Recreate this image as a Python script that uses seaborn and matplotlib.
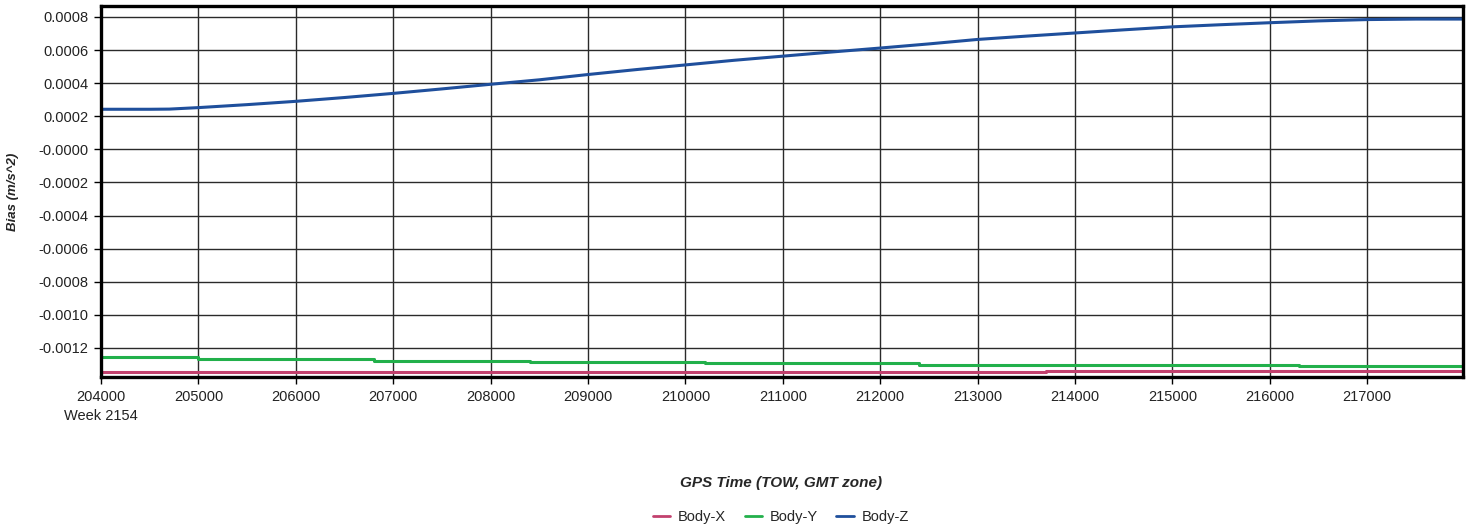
import matplotlib
matplotlib.use("Agg")
import matplotlib.pyplot as plt
import pandas as pd
import seaborn as sns

# Body-Z bias, read every 500 s
z_time = [204000, 204500, 204700, 205000, 205500, 206000, 206500, 207000, 207500,
          208000, 208500, 209000, 209500, 210000, 210500, 211000, 211500, 212000,
          212500, 213000, 213500, 214000, 214500, 215000, 215500, 216000, 216500,
          217000, 217500, 217980]
z_bias = [0.000242, 0.000242, 0.000243, 0.000252, 0.000270, 0.000290, 0.000313,
          0.000338, 0.000365, 0.000393, 0.000420, 0.000452, 0.000482, 0.000510,
          0.000538, 0.000563, 0.000588, 0.000612, 0.000637, 0.000664, 0.000684,
          0.000703, 0.000722, 0.000740, 0.000753, 0.000765, 0.000776, 0.000784,
          0.000787, 0.000787]

# Body-Y bias (step changes)
y_time = [204000, 205000, 206800, 208400, 210200, 212400, 216300, 217980]
y_bias = [-0.001256, -0.001267, -0.001277, -0.001285, -0.001293, -0.001301,
          -0.001307, -0.001307]

# Body-X bias
x_time = [204000, 213700, 217980]
x_bias = [-0.001344, -0.001337, -0.001337]

series_names = ["Body-X", "Body-Y", "Body-Z"]
series_colors = ["#c2416e", "#22b04b", "#1f4f9c"]

xtick_vals = list(range(204000, 218000, 1000))
xtick_labels = [str(v) for v in xtick_vals]
xtick_labels[0] = "204000\nWeek 2154"
ytick_vals = [0.0008, 0.0006, 0.0004, 0.0002, 0.0, -0.0002, -0.0004, -0.0006,
              -0.0008, -0.0010, -0.0012]
ytick_labels = ["0.0008", "0.0006", "0.0004", "0.0002", "-0.0000", "-0.0002",
                "-0.0004", "-0.0006", "-0.0008", "-0.0010", "-0.0012"]

df_x = pd.DataFrame({"time": x_time, "bias": x_bias})
df_y = pd.DataFrame({"time": y_time, "bias": y_bias})
df_z = pd.DataFrame({"time": z_time, "bias": z_bias})

sns.set_style("white")
plt.rcParams["font.family"] = ["Liberation Sans", "DejaVu Sans"]

fig = plt.figure(figsize=(14.73, 5.31), dpi=100)
ax = fig.add_axes([0.0686, 0.29, 0.9244, 0.699])

sns.lineplot(data=df_x, x="time", y="bias", color=series_colors[0],
             drawstyle="steps-post", linewidth=2.2, ax=ax, estimator=None)
sns.lineplot(data=df_y, x="time", y="bias", color=series_colors[1],
             drawstyle="steps-post", linewidth=2.2, ax=ax, estimator=None)
sns.lineplot(data=df_z, x="time", y="bias", color=series_colors[2],
             linewidth=2.2, ax=ax, estimator=None)

ax.set_xlim(204000, 217980)
ax.set_ylim(-0.001376, 0.000867)
ax.set_xticks(xtick_vals)
ax.set_xticklabels(xtick_labels, fontsize=10.5, color="#222222",
                   multialignment="center", linespacing=1.5)
ax.set_yticks(ytick_vals)
ax.set_yticklabels(ytick_labels, fontsize=10.5, color="#222222")

ax.grid(True, color="#2a2a2a", linewidth=1.0)
ax.set_axisbelow(True)
for sp in ax.spines.values():
    sp.set_visible(True)
    sp.set_color("black")
    sp.set_linewidth(2.4)
ax.tick_params(axis="both", direction="out", length=5, width=1, color="black",
               bottom=True, left=True, pad=4)

ax.set_xlabel("")
ax.set_ylabel("Bias (m/s^2)", fontsize=9.5, fontweight="bold", fontstyle="italic",
              labelpad=14)
fig.text(0.53, 0.09, "GPS Time (TOW, GMT zone)", fontsize=11, fontweight="bold",
         fontstyle="italic", ha="center", va="center")

handles = [plt.Line2D([], [], color=c, linewidth=2) for c in series_colors]
fig.legend(handles, series_names, loc="center", bbox_to_anchor=(0.53, 0.026),
           ncol=3, frameon=False, fontsize=10.5, handlelength=1.2,
           handletextpad=0.5, columnspacing=1.3)

fig.savefig("out.png", dpi=100)
